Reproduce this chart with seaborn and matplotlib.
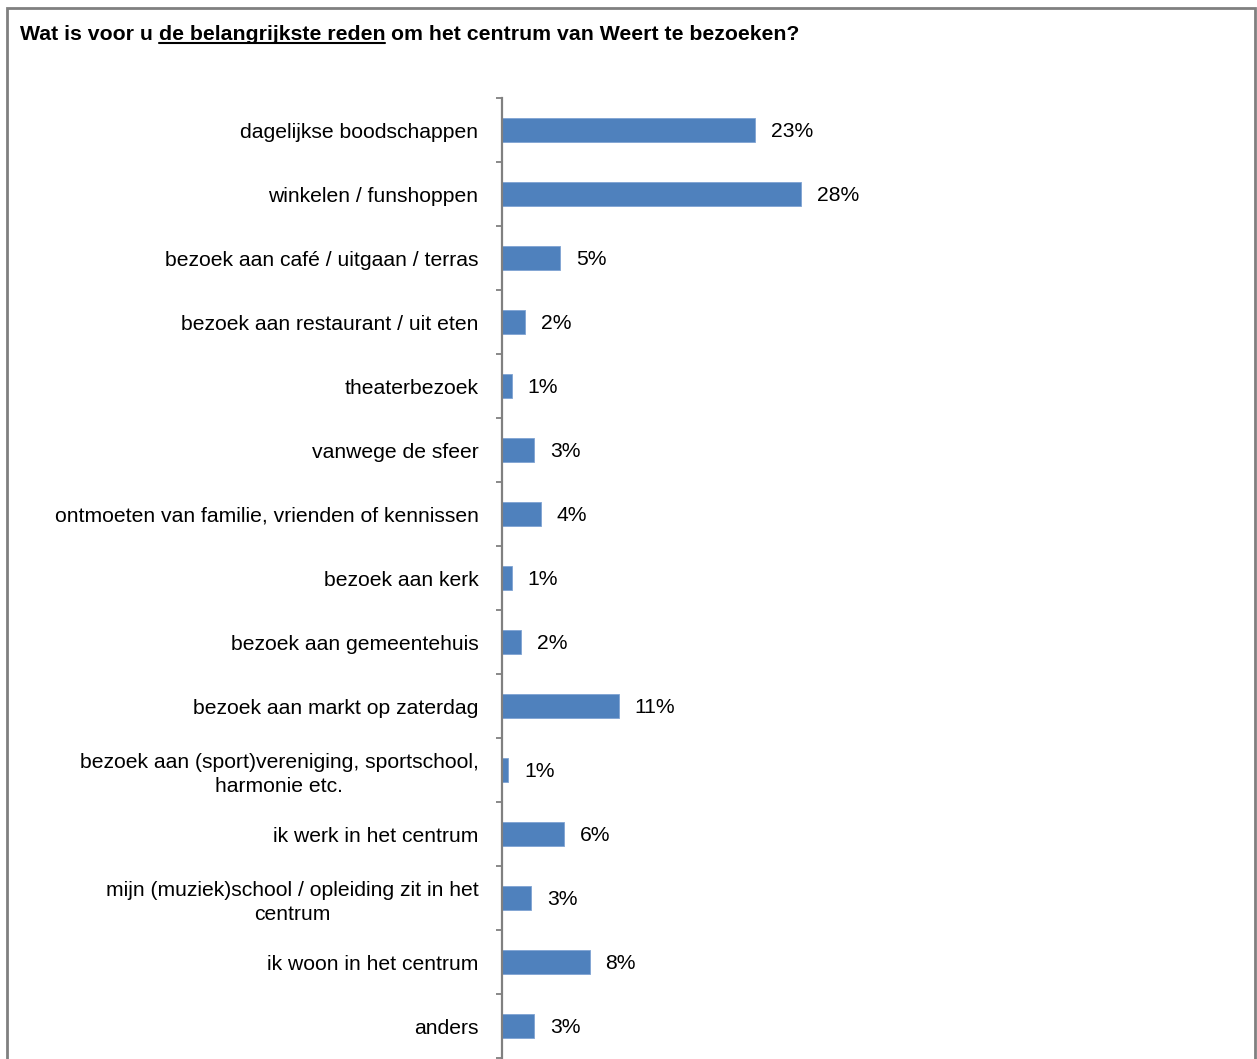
import seaborn as sns
import pandas as pd
import matplotlib.pyplot as plt
from matplotlib.lines import Line2D
from matplotlib.patches import Rectangle
from matplotlib.ticker import FixedLocator

# redenen om het centrum te bezoeken (aandeel respondenten)
categories = [
    "dagelijkse boodschappen",
    "winkelen / funshoppen",
    "bezoek aan café / uitgaan / terras",
    "bezoek aan restaurant / uit eten",
    "theaterbezoek",
    "vanwege de sfeer",
    "ontmoeten van familie, vrienden of kennissen",
    "bezoek aan kerk",
    "bezoek aan gemeentehuis",
    "bezoek aan markt op zaterdag",
    "bezoek aan (sport)vereniging, sportschool,\nharmonie etc.",
    "ik werk in het centrum",
    "mijn (muziek)school / opleiding zit in het\ncentrum",
    "ik woon in het centrum",
    "anders",
]
shares = [0.234, 0.276, 0.054, 0.021, 0.009, 0.030, 0.036, 0.009, 0.018,
          0.108, 0.006, 0.057, 0.027, 0.081, 0.030]

title_pre = "Wat is voor u"
title_mid = "de belangrijkste reden"
title_post = "om het centrum van Weert te bezoeken?"

sns.set_style("white")
plt.rcParams['font.family'] = ['Liberation Sans', 'DejaVu Sans']
plt.rcParams['text.color'] = 'black'

df = pd.DataFrame({"reden": categories, "aandeel": shares})

W, H = 1257, 1059
fig = plt.figure(figsize=(W / 100, H / 100), dpi=100)
ax = fig.add_axes([502 / W, 1 - 1058 / H, 728 / W, 960 / H])

sns.barplot(data=df, y="reden", x="aandeel", orient="h", color="#4F81BD",
            saturation=1, width=0.39, edgecolor="#7FA3D3", linewidth=0.6, ax=ax)

ax.set_xlim(0, 0.6728)
ax.set_ylim(len(categories) - 0.5, -0.5)
ax.set_xlabel("")
ax.set_ylabel("")
ax.set_xticks([])

for side in ["top", "right", "bottom"]:
    ax.spines[side].set_visible(False)
ax.spines["left"].set_color("#808080")
ax.spines["left"].set_linewidth(1.6)

ax.tick_params(axis="y", which="major", length=0, pad=17, labelsize=15.2,
               labelcolor="black")
ax.yaxis.set_minor_locator(FixedLocator([i - 0.5 for i in range(len(categories) + 1)]))
ax.tick_params(axis="y", which="minor", length=4.5, width=1.3, color="#808080",
               left=True)
plt.setp(ax.get_yticklabels(), multialignment="center", linespacing=1.3)

for i, v in enumerate(shares):
    ax.annotate(f"{v:.0%}", xy=(v, i), xytext=(11.5, -1.4), textcoords="offset points",
                va="center", ha="left", fontsize=15.2, color="black")

# titel met onderstreept deel
ty = 1 - 34.5 / H
fs_title = 15.3
t1 = fig.text(20 / W, ty, title_pre, fontsize=fs_title, fontweight="bold", va="center")
fig.canvas.draw()
r = fig.canvas.get_renderer()
sp = fig.text(0, 0, "a a", fontsize=fs_title, fontweight="bold")
sp2 = fig.text(0, 0, "aa", fontsize=fs_title, fontweight="bold")
space_w = (sp.get_window_extent(r).width - sp2.get_window_extent(r).width) / W
sp.remove()
sp2.remove()
b1 = t1.get_window_extent(r)
x2 = b1.x1 / W + space_w
t2 = fig.text(x2, ty, title_mid, fontsize=fs_title, fontweight="bold", va="center")
b2 = t2.get_window_extent(r)
x3 = b2.x1 / W + space_w
fig.text(x3, ty, title_post, fontsize=fs_title, fontweight="bold", va="center")
uy = (b2.y0 + 1) / H
fig.add_artist(Line2D([b2.x0 / W, b2.x1 / W], [uy, uy], color="black",
                      linewidth=1.5, transform=fig.transFigure))

# kader rond de grafiek
fig.add_artist(Rectangle((7 / W, -0.05), (1255 - 7) / W, 1.05 - 8 / H,
                         fill=False, edgecolor="#808080", linewidth=2,
                         transform=fig.transFigure))

fig.savefig("out.png", dpi=100)
